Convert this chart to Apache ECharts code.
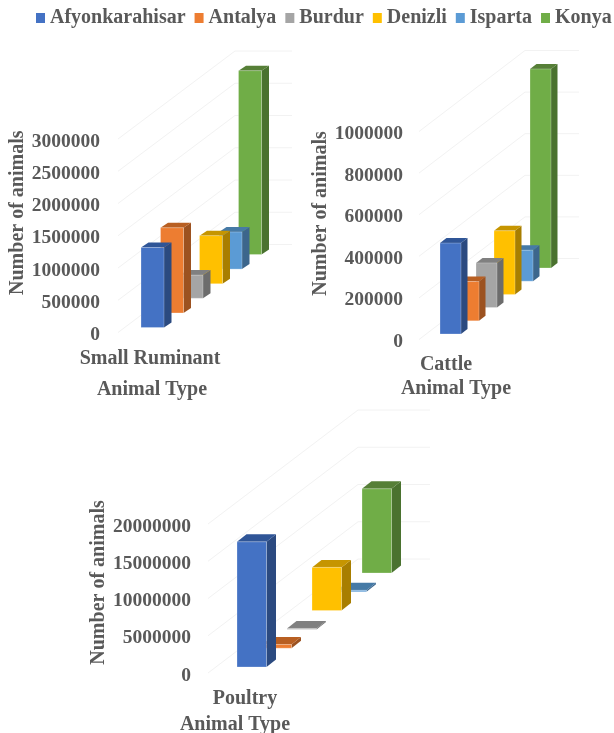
<!DOCTYPE html>
<html>
<head>
<meta charset="utf-8">
<style>html,body{margin:0;padding:0;background:#fff}#chart{width:614px;height:733px}</style>
<script src="https://cdn.jsdelivr.net/npm/echarts@6/dist/echarts.min.js"></script>
</head>
<body>
<div id="chart"></div>
<script>
// Livestock numbers by province, one pseudo-3D clustered panel per animal type.
const provinces = ['Afyonkarahisar', 'Antalya', 'Burdur', 'Denizli', 'Isparta', 'Konya'];
const smallRuminant = [1240000, 1320000, 360000, 745000, 575000, 2850000];
const cattle = [437000, 189000, 215000, 306000, 149000, 957000];
const poultry = [16800000, 500000, 130000, 5800000, 200000, 11300000];
const smallRuminantTicks = [0, 500000, 1000000, 1500000, 2000000, 2500000, 3000000];
const cattleTicks = [0, 200000, 400000, 600000, 800000, 1000000];
const poultryTicks = [0, 5000000, 10000000, 15000000, 20000000];

// front, side and top face colours of each province's bar
const faceColors = [
  ['#4472C4', '#2B4A80', '#2F5597'],
  ['#ED7D31', '#9C5220', '#B85F22'],
  ['#A5A5A5', '#6C6C6C', '#808080'],
  ['#FFC000', '#A87E00', '#C69500'],
  ['#5B9BD5', '#3C668C', '#467AA6'],
  ['#70AD47', '#4A722F', '#567F37']
];

const panels = [
  { category: 'Small Ruminant', values: smallRuminant, ticks: smallRuminantTicks,
    left: 118, top: 141.5, width: 64, height: 193.5, labelMargin: 18, catMargin: 13.5, nameGap: 44.5, namePad: [0, 0, 0, 4],
    yGap: 80, yPad: [0, 0, 0, 51],
    wall: { dx: 117, dy: -88, run: 57, offsetY: -2.5 },
    bar: { offsetX: 23, offsetY: -7.5, width: 23, sideX: 7.5, sideY: -5, stepX: 19.5, stepY: -14.6 } },
  { category: 'Cattle', values: cattle, ticks: cattleTicks,
    left: 419, top: 134, width: 54, height: 208, labelMargin: 16, catMargin: 12.5, nameGap: 36.5, namePad: [0, 0, 0, 20],
    yGap: 74, yPad: [0, 0, 0, 49],
    wall: { dx: 106, dy: -81, run: 54, offsetY: -2.5 },
    bar: { offsetX: 21, offsetY: -8, width: 21, sideX: 6.5, sideY: -5, stepX: 18, stepY: -13.2 } },
  { category: 'Poultry', values: poultry, ticks: poultryTicks,
    left: 208, top: 526.5, width: 74, height: 149, labelMargin: 17, catMargin: 13.5, nameGap: 39.5, namePad: [0, 20, 0, 0],
    yGap: 97, yPad: [0, 0, 0, 37],
    wall: { dx: 150, dy: -114, run: 72, offsetY: -2.5 },
    bar: { offsetX: 29, offsetY: -8.5, width: 29.5, sideX: 9.5, sideY: -7.5, stepX: 25, stepY: -18.8 } }
];

const textBase = { fontFamily: 'Liberation Serif', fontWeight: 'bold', color: '#595959', fontSize: 20 };

function wallItem(wall) {
  return function (params, api) {
    const p = api.coord([0, api.value(1)]);
    const x = params.coordSys.x;
    const y = p[1] + wall.offsetY;
    return {
      type: 'polyline',
      shape: { points: [[x, y], [x + wall.dx, y + wall.dy], [x + wall.dx + wall.run, y + wall.dy]] },
      style: { stroke: '#F2F2F2', lineWidth: 1, fill: null }
    };
  };
}

function barItem(bar, depth, colors) {
  return function (params, api) {
    const base = api.coord([api.value(0), 0]);
    const head = api.coord([api.value(0), api.value(1)]);
    const x0 = params.coordSys.x + bar.offsetX + bar.stepX * depth;
    const x1 = x0 + bar.width;
    const shift = bar.offsetY + bar.stepY * depth;
    const yb = base[1] + shift;
    const yt = head[1] + shift;
    const sx = bar.sideX, sy = bar.sideY;
    return {
      type: 'group',
      children: [
        { type: 'polygon', shape: { points: [[x1, yt], [x1 + sx, yt + sy], [x1 + sx, yb + sy], [x1, yb]] }, style: { fill: colors[1] } },
        { type: 'polygon', shape: { points: [[x0, yt], [x0 + sx, yt + sy], [x1 + sx, yt + sy], [x1, yt]] }, style: { fill: colors[2] } },
        { type: 'polygon', shape: { points: [[x0, yt], [x1, yt], [x1, yb], [x0, yb]] },
          style: { fill: colors[0], stroke: 'rgba(255,255,255,0.25)', lineWidth: 1 } }
      ]
    };
  };
}

const grids = [], xAxes = [], yAxes = [], series = [];
panels.forEach(function (panel, i) {
  grids.push({ left: panel.left, top: panel.top, width: panel.width, height: panel.height, outerBoundsMode: 'none' });
  xAxes.push({
    type: 'category', gridIndex: i, data: [panel.category],
    axisLine: { show: false }, axisTick: { show: false },
    axisLabel: Object.assign({}, textBase, { margin: panel.catMargin }),
    name: 'Animal Type', nameLocation: 'middle', nameGap: panel.nameGap,
    nameTextStyle: Object.assign({}, textBase, { padding: panel.namePad })
  });
  const ticks = panel.ticks;
  yAxes.push({
    type: 'value', gridIndex: i, min: ticks[0], max: ticks[ticks.length - 1], interval: ticks[1] - ticks[0],
    axisLine: { show: false }, axisTick: { show: false }, splitLine: { show: false },
    axisLabel: Object.assign({}, textBase, {
      fontSize: 19.5, margin: panel.labelMargin,
      formatter: function (v) { return String(v); }
    }),
    name: 'Number of animals', nameLocation: 'middle', nameGap: panel.yGap,
    nameTextStyle: Object.assign({}, textBase, { padding: panel.yPad })
  });
  series.push({
    type: 'custom', xAxisIndex: i, yAxisIndex: i, silent: true, z: 1,
    renderItem: wallItem(panel.wall),
    encode: { x: 0, y: 1 },
    data: ticks.map(function (t) { return [0, t]; })
  });
  provinces.forEach(function (name, k) {
    series.push({
      type: 'custom', name: name, xAxisIndex: i, yAxisIndex: i, silent: true,
      z: 10 - k,
      itemStyle: { color: faceColors[k][0] },
      renderItem: barItem(panel.bar, k, faceColors[k]),
      encode: { x: 0, y: 1 },
      data: [[0, panel.values[k]]]
    });
  });
});

const chart = echarts.init(document.getElementById('chart'), null, { renderer: 'canvas' });
chart.setOption({
  animation: false,
  backgroundColor: '#ffffff',
  legend: {
    data: provinces, left: 36, top: 8, icon: 'rect', itemWidth: 9, itemHeight: 10, itemGap: 9,
    selectedMode: false, padding: 0,
    textStyle: textBase
  },
  grid: grids, xAxis: xAxes, yAxis: yAxes, series: series
});
</script>
</body>
</html>
